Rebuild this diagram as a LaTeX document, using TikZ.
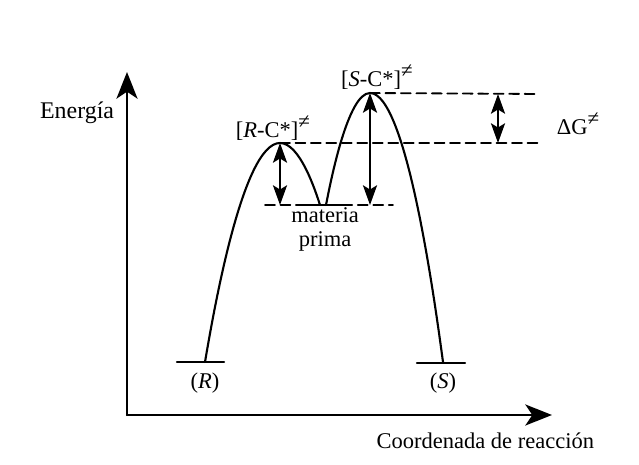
\documentclass[tikz,border=0pt]{standalone}
\usepackage{fontspec}
\setmainfont{Liberation Serif}
\usetikzlibrary{arrows.meta}
\newcommand{\ts}{\raisebox{0.85ex}{\fontsize{15}{15}\selectfont ≠}}
\tikzset{
  curve/.style={line width=1.5pt},
  level/.style={line width=1.5pt},
  guide/.style={line width=1.3pt, dash pattern=on 7pt off 4pt},
  gap/.style={line width=1.5pt, {Stealth[length=14pt,width=10pt,inset=3pt]}-{Stealth[length=14pt,width=10pt,inset=3pt]}},
}
\begin{document}
\begin{tikzpicture}[x=0.025cm, y=-0.025cm, line join=round, line cap=round, >=stealth,
  font=\fontsize{16}{17}\selectfont]
\useasboundingbox (0,0) rectangle (639,465);
% axes
\coordinate (O) at (127,415);
\coordinate (Ytop) at (127,72);
\coordinate (Xend) at (552,415);
\draw[line width=1.5pt, -{Stealth[length=19pt,width=15pt,inset=5pt]}] (O) -- (Ytop);
\draw[line width=1.5pt, -{Stealth[length=19pt,width=15pt,inset=5pt]}] (O) -- (Xend);
\node[anchor=east, font=\fontsize{17}{18}\selectfont] (en) at (119,113) {Energía};
\node[anchor=north east] (xc) at (599,428) {Coordenada de reacción};
% levels
\coordinate (R) at (205,362);
\coordinate (S) at (443,362);
\coordinate (TR) at (280,143);
\coordinate (TS) at (370,93);
\coordinate (M1) at (320,205);
\coordinate (M2) at (326,205);
\draw[level] (177,362) -- (224,362);
\draw[level] (417,363) -- (465,363);
\node (rl) at (205,383) {(\textit{R})};
\node (sl) at (443,383) {(\textit{S})};
% curves
\draw[curve] (R) parabola bend (TR) (M1);
\draw[curve] (M2) parabola bend (TS) (S);
% dashed guides
\draw[guide] (265,205) -- (393,205);
\draw[level] (297,205) -- (350,205);
\draw[guide] (TR) -- (540,143);
\draw[guide] (TS) -- (540,94);
% arrows
\draw[gap] (TR) -- (280,205);
\draw[gap] (TS) -- (370,205);
\draw[gap] (498,94) -- (498,143);
% labels
\node (rc) at (273,128) {[\textit{R}-C*]\ts};
\node (sc) at (377,77) {[\textit{S}-C*]\ts};
\node[anchor=west] (dg) at (552,124) {ΔG\ts};
\node[align=center] (mp) at (325,229) {materia\\prima};
\end{tikzpicture}
\end{document}
